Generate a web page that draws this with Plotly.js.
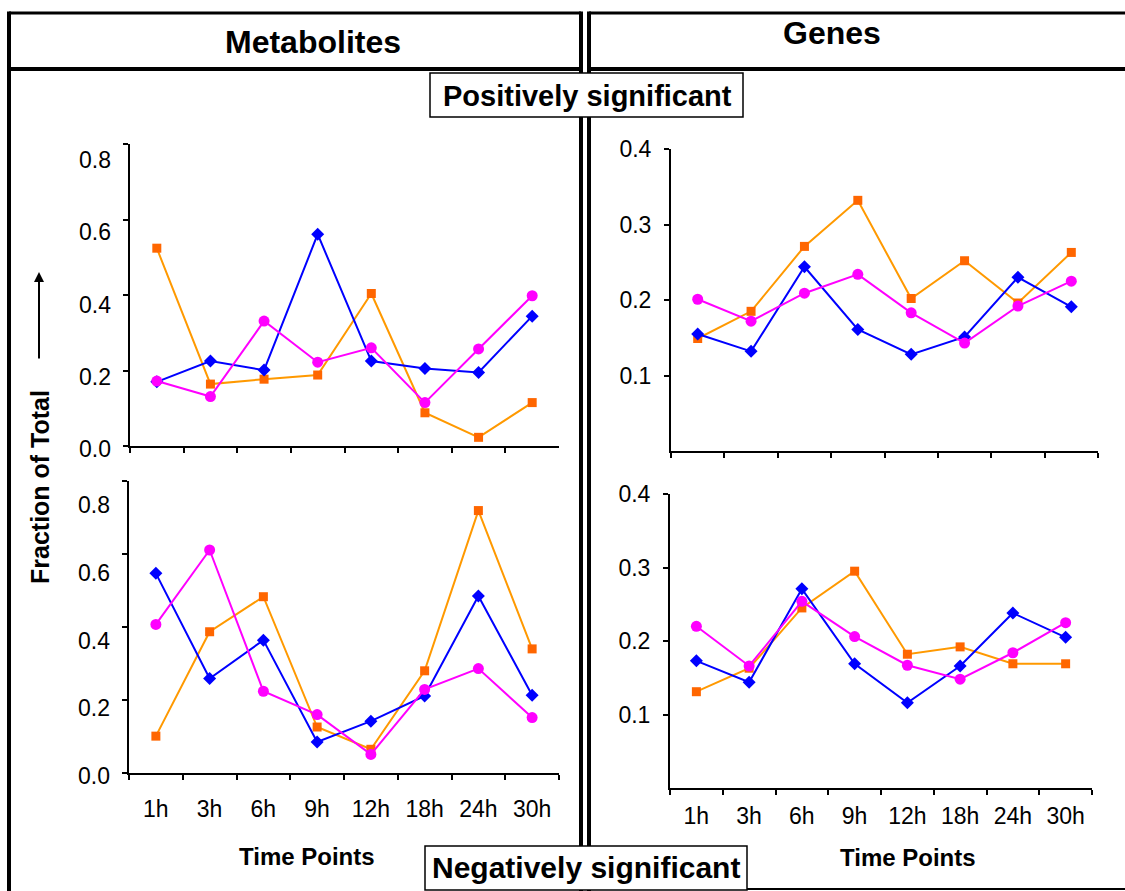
<!DOCTYPE html>
<html>
<head>
<meta charset="utf-8">
<script src="https://cdn.plot.ly/plotly-3.0.1.min.js"></script>
<style>
  html, body { margin: 0; padding: 0; background: #ffffff; }
  #chart { width: 1125px; height: 891px; }
</style>
</head>
<body>
<div id="chart"></div>
<script>
// ---------------- DATA ----------------
const timePoints = ['1h', '3h', '6h', '9h', '12h', '18h', '24h', '30h'];

// Metabolites – positively significant
const metPosBlue    = [0.170, 0.225, 0.201, 0.561, 0.225, 0.205, 0.195, 0.344];
const metPosOrange  = [0.524, 0.164, 0.177, 0.188, 0.404, 0.088, 0.023, 0.115];
const metPosMagenta = [0.172, 0.131, 0.331, 0.222, 0.260, 0.115, 0.257, 0.398];

// Metabolites – negatively significant
const metNegBlue    = [0.547, 0.259, 0.364, 0.085, 0.142, 0.211, 0.485, 0.213];
const metNegOrange  = [0.101, 0.387, 0.483, 0.126, 0.065, 0.280, 0.719, 0.340];
const metNegMagenta = [0.407, 0.611, 0.224, 0.160, 0.051, 0.229, 0.286, 0.152];

// Genes – positively significant
const genePosBlue    = [0.155, 0.132, 0.244, 0.161, 0.128, 0.151, 0.230, 0.191];
const genePosOrange  = [0.149, 0.185, 0.271, 0.332, 0.202, 0.252, 0.196, 0.263];
const genePosMagenta = [0.201, 0.172, 0.209, 0.234, 0.183, 0.143, 0.192, 0.225];

// Genes – negatively significant
const geneNegBlue    = [0.173, 0.144, 0.271, 0.169, 0.116, 0.166, 0.238, 0.205];
const geneNegOrange  = [0.131, 0.163, 0.245, 0.295, 0.182, 0.192, 0.169, 0.169];
const geneNegMagenta = [0.220, 0.166, 0.254, 0.206, 0.167, 0.148, 0.184, 0.225];

const metTicks  = [0, 0.2, 0.4, 0.6, 0.8];
const geneTicks = [0.1, 0.2, 0.3, 0.4];

// ---------------- STYLE ----------------
const W = 1125, H = 891;
const FONT = 'Liberation Sans, Arial, Helvetica, sans-serif';
const px = v => v / W;
const py = v => 1 - v / H;

const styles = {
  orange:  { line: { color: '#FF9900', width: 2 }, marker: { symbol: 'square',  size: 9,  color: '#FF6600' } },
  blue:    { line: { color: '#0000FF', width: 2 }, marker: { symbol: 'diamond', size: 10, color: '#0000FF' } },
  magenta: { line: { color: '#FF00FF', width: 2 }, marker: { symbol: 'circle',  size: 11, color: '#FF00FF' } }
};

function series(vals, key, xa, ya) {
  return {
    type: 'scatter', mode: 'lines+markers',
    x: timePoints, y: vals, xaxis: xa, yaxis: ya,
    line: styles[key].line, marker: styles[key].marker,
    cliponaxis: false, showlegend: false, hoverinfo: 'skip'
  };
}
// empty helper trace that only makes a label-only axis exist
function labelHost(xa, ya) {
  return { type: 'scatter', mode: 'markers', x: [], y: [], xaxis: xa, yaxis: ya, showlegend: false, hoverinfo: 'skip' };
}

const traces = [
  // order: orange, blue, magenta (magenta on top)
  series(metPosOrange, 'orange', 'x', 'y'),
  series(metPosBlue, 'blue', 'x', 'y'),
  series(metPosMagenta, 'magenta', 'x', 'y'),

  series(genePosOrange, 'orange', 'x2', 'y2'),
  series(genePosBlue, 'blue', 'x2', 'y2'),
  series(genePosMagenta, 'magenta', 'x2', 'y2'),

  series(metNegOrange, 'orange', 'x3', 'y3'),
  series(metNegBlue, 'blue', 'x3', 'y3'),
  series(metNegMagenta, 'magenta', 'x3', 'y3'),

  series(geneNegOrange, 'orange', 'x4', 'y4'),
  series(geneNegBlue, 'blue', 'x4', 'y4'),
  series(geneNegMagenta, 'magenta', 'x4', 'y4'),

  labelHost('x', 'y5'),
  labelHost('x3', 'y6')
];

function xAxis(x0, x1, anchor, showLabels, standoff) {
  return {
    domain: [px(x0), px(x1)], anchor: anchor,
    type: 'category', range: [-0.5, timePoints.length - 0.5],
    tickson: 'boundaries', ticks: 'outside', ticklen: 5, tickwidth: 2, tickcolor: '#000',
    showline: true, linecolor: '#000', linewidth: 2,
    showgrid: false, zeroline: false,
    showticklabels: showLabels, ticklabelstandoff: standoff || 14,
    tickfont: { family: FONT, size: 23, color: '#000' }
  };
}
function yAxis(yTop, yBot, anchor, range, tickvals, standoff, showLabels) {
  return {
    domain: [py(yBot), py(yTop)], anchor: anchor,
    range: range, tickmode: 'array', tickvals: tickvals, tickformat: '.1f',
    ticks: 'outside', ticklen: 5, tickwidth: 2, tickcolor: '#000',
    showline: true, linecolor: '#000', linewidth: 2,
    showgrid: false, zeroline: false, ticklabelstandoff: standoff,
    showticklabels: showLabels,
    tickfont: { family: FONT, size: 23, color: '#000' }
  };
}
// label-only axis (the source figure draws these labels slightly below their ticks)
function yLabelAxis(yTop, yBot, xPos, range, tickvals, standoff) {
  return {
    domain: [py(yBot), py(yTop)], anchor: 'free', position: px(xPos),
    range: range, tickmode: 'array', tickvals: tickvals, tickformat: '.1f',
    ticks: '', showline: false, showgrid: false, zeroline: false,
    ticklabelstandoff: standoff,
    tickfont: { family: FONT, size: 23, color: '#000' }
  };
}

function hline(x0, x1, y, w) {
  return { type: 'line', xref: 'paper', yref: 'paper', x0: px(x0), x1: px(x1), y0: py(y), y1: py(y), line: { color: '#000', width: w } };
}
function vline(x, y0, y1, w) {
  return { type: 'line', xref: 'paper', yref: 'paper', x0: px(x), x1: px(x), y0: py(y0), y1: py(y1), line: { color: '#000', width: w } };
}
function box(x0, y0, x1, y1) {
  return { type: 'rect', xref: 'paper', yref: 'paper', x0: px(x0), x1: px(x1), y0: py(y1), y1: py(y0), fillcolor: '#fff', line: { color: '#000', width: 1.5 } };
}
function label(text, x, y, size, extra) {
  return Object.assign({
    text: '<b>' + text + '</b>', xref: 'paper', yref: 'paper', x: px(x), y: py(y),
    xanchor: 'center', yanchor: 'middle', showarrow: false,
    font: { family: FONT, size: size, color: '#000' }
  }, extra || {});
}

const layout = {
  width: W, height: H,
  margin: { l: 0, r: 0, t: 0, b: 0 },
  paper_bgcolor: '#fff', plot_bgcolor: 'rgba(0,0,0,0)',
  font: { family: FONT, color: '#000' },
  showlegend: false,

  xaxis:  xAxis(130, 559, 'y', false),
  yaxis:  yAxis(144, 446, 'x', [0, 0.8], metTicks, 14, false),
  xaxis2: xAxis(671, 1098, 'y2', false),
  yaxis2: yAxis(149, 451, 'x2', [0, 0.4], geneTicks, 8, true),
  xaxis3: xAxis(129, 559, 'y3', true, 14),
  yaxis3: yAxis(481, 773, 'x3', [0, 0.8], metTicks, 14, false),
  xaxis4: xAxis(670, 1092, 'y4', true, 6),
  yaxis4: yAxis(494, 788, 'x4', [0, 0.4], geneTicks, 8, true),
  yaxis5: yLabelAxis(160, 449, 130, [0, 0.8], metTicks, 19),
  yaxis6: yLabelAxis(505, 776, 129, [0, 0.8], metTicks, 19),

  shapes: [
    hline(9, 581, 13, 3),
    hline(589, 1125, 13, 3),
    hline(9, 581, 69, 4),
    hline(589, 1125, 69, 4),
    vline(9, 11.5, 891, 4),
    vline(581, 11.5, 891, 4),
    vline(589, 11.5, 891, 4),
    hline(747, 1125, 889, 2),
    box(430, 73, 743, 117),
    box(425, 846, 747, 890)
  ],

  annotations: [
    label('Metabolites', 313, 42, 32),
    label('Genes', 832, 33, 32),
    label('Positively significant', 587, 96, 29),
    label('Negatively significant', 586, 867, 30),
    label('Time Points', 307, 856, 24),
    label('Time Points', 908, 857, 24),
    label('Fraction of Total', 40, 487, 25, { textangle: -90 }),
    {
      text: '', xref: 'paper', yref: 'paper', x: px(39), y: py(272),
      showarrow: true, axref: 'pixel', ayref: 'pixel', ax: 0, ay: 88,
      arrowhead: 2, arrowsize: 1, arrowwidth: 2, arrowcolor: '#000', standoff: 0
    }
  ]
};

Plotly.newPlot('chart', traces, layout, { staticPlot: true, displayModeBar: false });
</script>
</body>
</html>
